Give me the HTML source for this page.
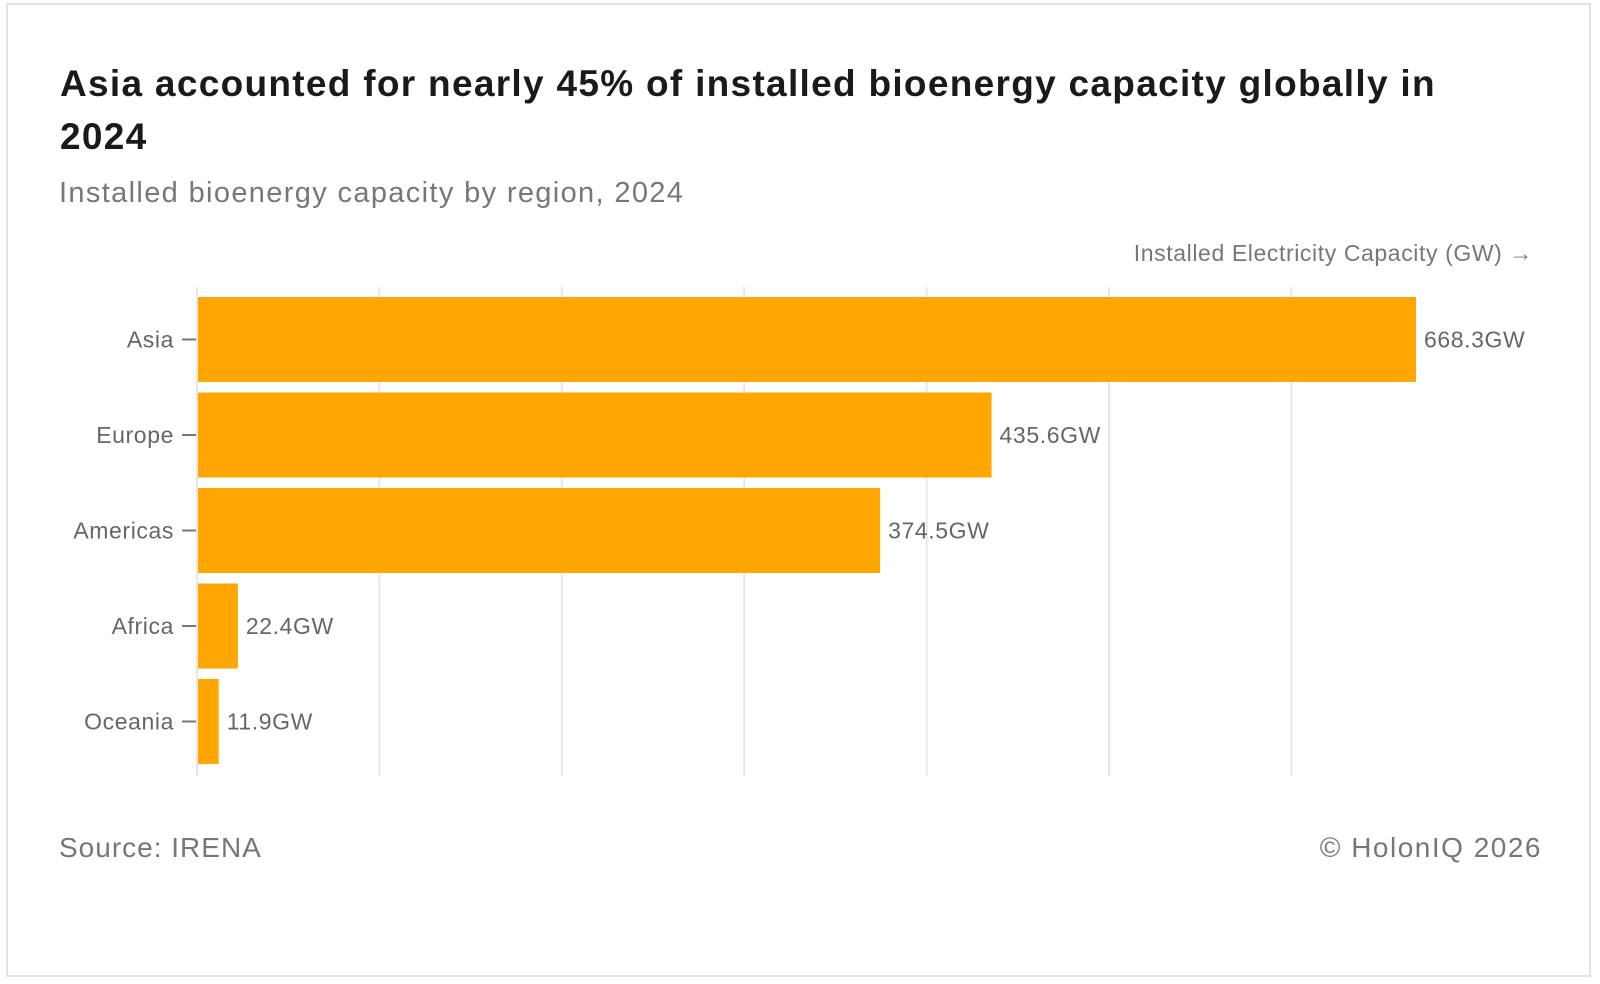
<!DOCTYPE html>
<html><head><meta charset="utf-8"><style>
body{margin:0;width:1600px;height:984px;background:#fff;font-family:"Liberation Sans",sans-serif;overflow:hidden}
.frame{position:absolute;left:6px;top:3px;width:1585px;height:974px;border:2px solid #e3e3e3;box-sizing:border-box}
.t{position:absolute;left:60px;top:57px;font-size:37px;font-weight:bold;color:#1a1a1a;line-height:53px;letter-spacing:1.3px}
.s{position:absolute;left:59px;top:177px;font-size:29px;color:#777;letter-spacing:1.35px}
.f{position:absolute;top:832px;font-size:28px;color:#777;letter-spacing:1.5px}
svg{position:absolute;left:0;top:0}
svg text{letter-spacing:0.6px}
</style></head><body>
<div class="frame"></div>
<div class="t">Asia accounted for nearly 45% of installed bioenergy capacity globally in<br>2024</div>
<div class="s">Installed bioenergy capacity by region, 2024</div>
<div class="f" style="left:59px;letter-spacing:1px">Source: IRENA</div>
<div class="f" style="right:58px">© HolonIQ 2026</div>
<svg id="c" width="1600" height="984"></svg>
<script>
const categories=["Asia","Europe","Americas","Africa","Oceania"];
const values=[668.3,435.6,374.5,22.4,11.9];
const ticks=[0,100,200,300,400,500,600];
const NS="http://www.w3.org/2000/svg";
const svg=document.getElementById('c');
const x0=197,k=1.824,top0=297,step=95.5,bh=85;
const xs=v=>x0+v*k;
function mk(t,a){const e=document.createElementNS(NS,t);for(const p in a)e.setAttribute(p,a[p]);svg.appendChild(e);return e;}
ticks.forEach(t=>{const l=mk('line',{x1:xs(t),x2:xs(t),y1:287,y2:776,stroke:'#e6e6e6','stroke-width':2});

});
const al=mk('text',{x:1533,y:261,'text-anchor':'end','font-size':23,fill:'#777'});al.textContent='Installed Electricity Capacity (GW) →';


categories.forEach((c,i)=>{
const y=top0+i*step;
const r=mk('rect',{x:x0,y:y,width:values[i]*k,height:bh,fill:'#ffa600'});


const tk=mk('line',{x1:182,x2:196,y1:y+bh/2,y2:y+bh/2,stroke:'#777','stroke-width':2});


const lb=mk('text',{x:174,y:y+bh/2+8,'text-anchor':'end','font-size':23,fill:'#666'});lb.textContent=c;


const vl=mk('text',{x:xs(values[i])+8,y:y+bh/2+8,'font-size':23,fill:'#666'});vl.textContent=values[i].toFixed(1)+'GW';


});
mk('line',{x1:x0,x2:x0,y1:287,y2:776,stroke:'#e6e6e6','stroke-width':2});
</script>
</body></html>
